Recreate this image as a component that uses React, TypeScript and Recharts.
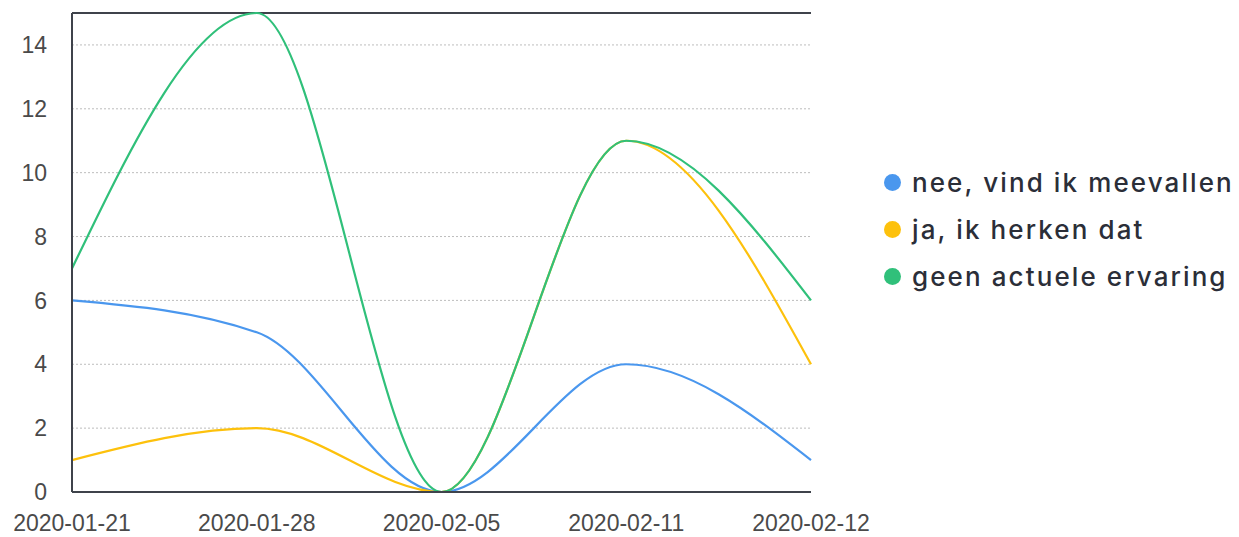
import React from 'react';
import { LineChart, Line, XAxis, YAxis, CartesianGrid, ReferenceLine } from 'recharts';

const categories = ['2020-01-21', '2020-01-28', '2020-02-05', '2020-02-11', '2020-02-12'];
const neeValues = [6, 5, 0, 4, 1];
const jaValues = [1, 2, 0, 11, 4];
const geenValues = [7, 15, 0, 11, 6];
const yTicks = [0, 2, 4, 6, 8, 10, 12, 14];

const seriesInfo = [
  { key: 'nee', name: 'nee, vind ik meevallen', color: '#4a97ee' },
  { key: 'ja', name: 'ja, ik herken dat', color: '#fdc10c' },
  { key: 'geen', name: 'geen actuele ervaring', color: '#30c07a' },
];

const data = categories.map((c, i) => ({
  date: c,
  nee: neeValues[i],
  ja: jaValues[i],
  geen: geenValues[i],
}));

const tickStyle = { fill: '#4a4a4a', fontSize: 23, fontFamily: '"Liberation Sans", Arial, sans-serif' };

export default function App() {
  return (
    <div style={{ position: 'absolute', left: 0, top: 0, width: 1239, height: 537, background: '#fff' }}>
      <LineChart width={1239} height={537} data={data} margin={{ top: 13, right: 428, left: 0, bottom: 0 }}>
        <CartesianGrid vertical={false} stroke="#bdbdbd" strokeDasharray="2 2" />
        <XAxis
          dataKey="date"
          height={45}
          tickLine={false}
          tickMargin={17}
          axisLine={{ stroke: '#3f434b', strokeWidth: 2 }}
          tick={tickStyle}
          interval={0}
        />
        <YAxis
          width={72}
          domain={[0, 15]}
          ticks={yTicks}
          tickLine={false}
          tickMargin={19}
          axisLine={{ stroke: '#3f434b', strokeWidth: 2 }}
          tick={tickStyle}
        />
        <ReferenceLine y={15} stroke="#3f434b" strokeWidth={2} />
        {seriesInfo.map((s) => (
          <Line
            key={s.key}
            type="monotone"
            dataKey={s.key}
            name={s.name}
            stroke={s.color}
            strokeWidth={2.2}
            dot={false}
            activeDot={false}
            isAnimationActive={false}
          />
        ))}
      </LineChart>
      <div
        style={{
          position: 'absolute',
          left: 884,
          top: 159,
          width: 360,
          fontFamily: 'Inter, sans-serif',
          fontWeight: 500,
          fontSize: 26,
          letterSpacing: 2.1,
          color: '#2b2e38',
        }}
      >
        {seriesInfo.map((s) => (
          <div key={s.key} style={{ display: 'flex', alignItems: 'center', height: 47, whiteSpace: 'nowrap' }}>
            <span
              style={{
                display: 'inline-block',
                width: 17,
                height: 17,
                borderRadius: '50%',
                background: s.color,
                marginRight: 11,
                flexShrink: 0,
              }}
            />
            <span>{s.name}</span>
          </div>
        ))}
      </div>
    </div>
  );
}
